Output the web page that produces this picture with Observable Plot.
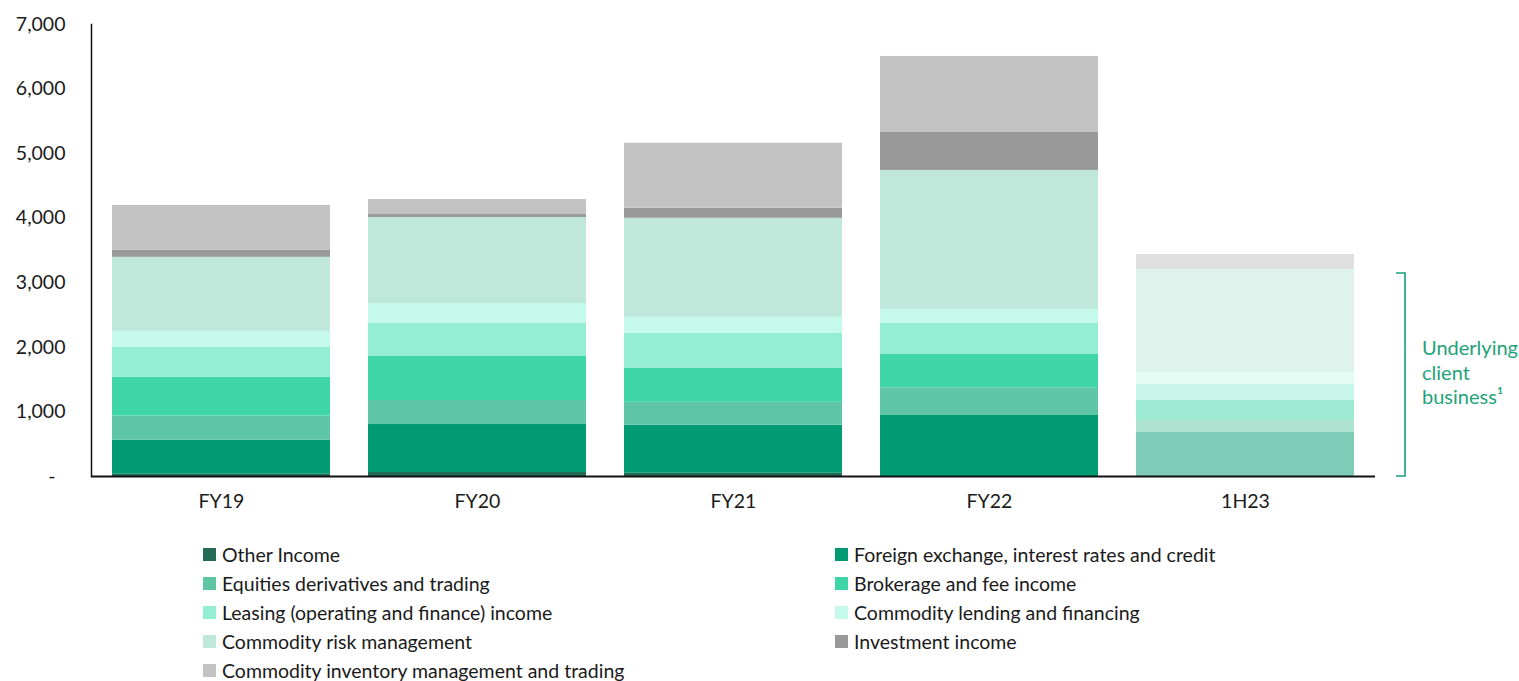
<!DOCTYPE html>
<html>
<head>
<meta charset="utf-8">
<script src="https://cdn.jsdelivr.net/npm/d3@7"></script>
<script src="https://cdn.jsdelivr.net/npm/@observablehq/plot@0.6"></script>
<style>
  body { margin: 0; background: #fff; font-family: Lato, "Open Sans", sans-serif; }
  #chart svg { display: block; }
  #legend { display: grid; grid-template-columns: 632px auto; padding-left: 203px; margin-top: 10px; font-size: 19.5px; color: #1a1a1a; }
  .item { display: flex; align-items: center; height: 29px; white-space: nowrap; }
  .sw { width: 13px; height: 13px; margin-right: 6px; flex: none; }
</style>
</head>
<body>
<div id="chart"></div>
<div id="legend"></div>
<script>
const periods = ["FY19", "FY20", "FY21", "FY22", "1H23"];
const seriesNames = [
  "Other Income",
  "Foreign exchange, interest rates and credit",
  "Equities derivatives and trading",
  "Brokerage and fee income",
  "Leasing (operating and finance) income",
  "Commodity lending and financing",
  "Commodity risk management",
  "Investment income",
  "Commodity inventory management and trading"
];
const seriesColors = ["#236b55", "#009b72", "#5ec6a4", "#3ed6a5", "#94eed2", "#c5faea", "#bfe8db", "#999999", "#c2c2c2"];

const otherIncome    = [35, 62, 50, 0, 0];
const fxRatesCredit  = [526, 743, 743, 945, 681];
const equities       = [376, 372, 356, 429, 186];
const brokerage      = [599, 681, 527, 516, 310];
const leasing        = [464, 511, 542, 480, 248];
const lending        = [248, 310, 248, 217, 186];
const riskMgmt       = [1146, 1332, 1533, 2153, 1595];
const investment     = [108, 46, 155, 588, 0];
const inventory      = [697, 232, 1007, 1177, 232];

const yTicks = [0, 1000, 2000, 3000, 4000, 5000, 6000, 7000];
const bracketLabel = ["Underlying", "client", "business\u00b9"];
const fadedPeriod = "1H23";

const seriesValues = [otherIncome, fxRatesCredit, equities, brokerage, leasing, lending, riskMgmt, investment, inventory];
const data = [];
seriesNames.forEach((s, i) => {
  periods.forEach((p, j) => data.push({ period: p, series: s, value: seriesValues[i][j] }));
});
const clientSeries = seriesNames.slice(0, 7);
const clientTotal = d3.sum(data.filter(d => d.period === fadedPeriod && clientSeries.includes(d.series)), d => d.value);

const font = "Lato, 'Open Sans', sans-serif";
const chart = Plot.plot({
  width: 1519,
  height: 530,
  marginLeft: 91,
  marginRight: 144,
  marginTop: 24,
  marginBottom: 54,
  style: { fontFamily: font, fontSize: "19.5px", color: "#1a1a1a", background: "#fff" },
  x: { domain: periods, paddingInner: 0.15, paddingOuter: 0.075, label: null, tickSize: 0, tickPadding: 18 },
  y: { domain: [0, 7000], ticks: yTicks, label: null, tickSize: 0, tickPadding: 26,
       tickFormat: d => d === 0 ? "-\u00a0\u00a0" : d3.format(",")(d) },
  color: { domain: seriesNames, range: seriesColors },
  marks: [
    Plot.barY(data.filter(d => d.period !== fadedPeriod), { x: "period", y: "value", fill: "series", z: "series" }),
    Plot.barY(data.filter(d => d.period === fadedPeriod), { x: "period", y: "value", fill: "series", z: "series", fillOpacity: 0.5 }),
    Plot.frame({ anchor: "left", stroke: "#111", strokeWidth: 1.5 }),
    Plot.ruleY([0], { stroke: "#111", strokeWidth: 2 })
  ]
});
document.getElementById("chart").append(chart);

// bracket and label in the right margin, positioned via the y scale
const ys = chart.scale("y");
const svg = d3.select(chart);
const yTop = ys.apply(clientTotal) + 4;
const yBot = ys.apply(0);
const bx = 1405;
svg.append("path")
  .attr("d", `M${bx - 9},${yTop} H${bx} V${yBot} H${bx - 9}`)
  .attr("fill", "none").attr("stroke", "#1a9e78").attr("stroke-width", 1.6);
const t = svg.append("text")
  .attr("x", 1422).attr("y", 355)
  .attr("text-anchor", "start")
  .attr("fill", "#1fa27a").attr("font-size", "20px").attr("font-family", font);
bracketLabel.forEach((line, i) => {
  t.append("tspan").attr("x", 1422).attr("dy", i === 0 ? 0 : 24.5).text(line);
});

// legend
const legend = document.getElementById("legend");
seriesNames.forEach((s, i) => {
  const item = document.createElement("div");
  item.className = "item";
  const sw = document.createElement("span");
  sw.className = "sw";
  sw.style.background = seriesColors[i];
  const lab = document.createElement("span");
  lab.textContent = s;
  item.append(sw, lab);
  legend.append(item);
});
</script>
</body>
</html>
